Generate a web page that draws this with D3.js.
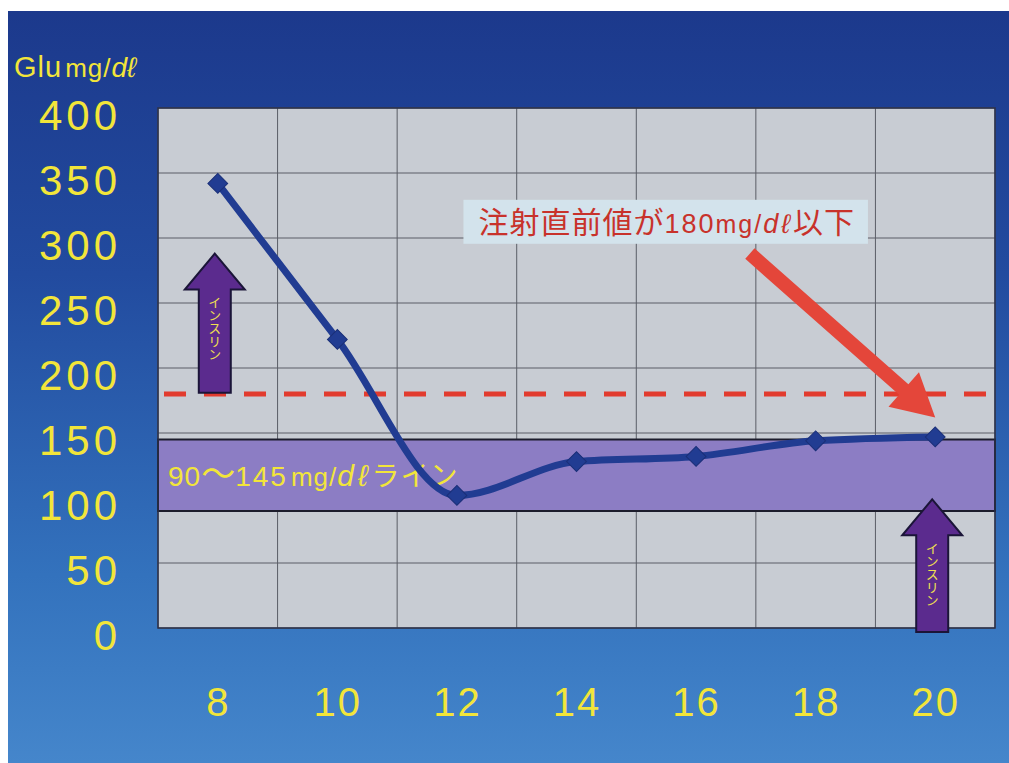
<!DOCTYPE html>
<html>
<head>
<meta charset="utf-8">
<script src="https://cdn.jsdelivr.net/npm/d3@7"></script>
<style>
  html, body { margin: 0; padding: 0; background: #ffffff; }
  svg { display: block; }
</style>
</head>
<body>
<svg id="chart" width="1009" height="763"></svg>
<script>
// Blood glucose through the day (hour of day vs. Glu mg/dℓ)
const hours = [8, 10, 12, 14, 16, 18, 20];
const glucose = [342, 222, 102, 128, 132, 144, 147];
const yTicks = [0, 50, 100, 150, 200, 250, 300, 350, 400];
const targetRange = [90, 145];      // 90〜145mg/dℓ target band
const thresholdValue = 180;         // pre-injection threshold
const insulinDoses = [              // insulin arrows: hour, arrow tip value, arrow base value
  { hour: 8, top: 288, bottom: 181 },
  { hour: 20, top: 99, bottom: -3 }
];

const W = 1009, H = 763;
const margin = { left: 158, right: 14, top: 108, bottom: 135 };
const svg = d3.select("#chart");
const YELLOW = "#f2e53a";
const LATIN = "'Liberation Sans', Arial, sans-serif";
const CJK = "'Noto Sans CJK JP'";

// background gradient panel
const defs = svg.append("defs");
const grad = defs.append("linearGradient").attr("id", "bg").attr("x1", 0).attr("y1", 0).attr("x2", 0).attr("y2", 1);
grad.append("stop").attr("offset", "0%").attr("stop-color", "#1c398c");
grad.append("stop").attr("offset", "35%").attr("stop-color", "#224b9f");
grad.append("stop").attr("offset", "75%").attr("stop-color", "#3372bd");
grad.append("stop").attr("offset", "100%").attr("stop-color", "#4586cb");
svg.append("rect").attr("x", 8).attr("y", 11).attr("width", W - 8).attr("height", H - 11).attr("fill", "url(#bg)");

const x0 = margin.left, x1 = W - margin.right, y0 = H - margin.bottom, y1 = margin.top;

const x = d3.scalePoint().domain(hours).range([x0, x1]).padding(0.5);
const xHour = d3.scaleLinear().domain([8, 20]).range([x(8), x(20)]);
const y = d3.scaleLinear().domain([0, 400]).range([y0, y1]);

// plot area
svg.append("rect").attr("x", x0).attr("y", y1).attr("width", x1 - x0).attr("height", y0 - y1)
  .attr("fill", "#c8ccd3");

// grid lines
const step = x.step();
const vGrid = d3.range(hours.length + 1).map(i => x0 + i * step);
svg.append("g").selectAll("line").data(vGrid).join("line")
  .attr("x1", d => d).attr("x2", d => d).attr("y1", y1).attr("y2", y0)
  .attr("stroke", "#5a5d66").attr("stroke-width", 1);
svg.append("g").selectAll("line").data(yTicks).join("line")
  .attr("x1", x0).attr("x2", x1).attr("y1", d => y(d)).attr("y2", d => y(d))
  .attr("stroke", "#5a5d66").attr("stroke-width", 1);

// target band
svg.append("rect")
  .attr("x", x0).attr("width", x1 - x0)
  .attr("y", y(targetRange[1])).attr("height", y(targetRange[0]) - y(targetRange[1]))
  .attr("fill", "#8c7dc4").attr("stroke", "#1c1c2c").attr("stroke-width", 2);

const bandLabel = svg.append("text")
  .attr("x", x0 + 10).attr("y", y((targetRange[0] + targetRange[1]) / 2) + 11)
  .attr("fill", YELLOW).attr("font-family", LATIN)
  .attr("font-size", 28);
bandLabel.append("tspan").attr("letter-spacing", 1).text("90");
bandLabel.append("tspan").attr("font-family", CJK).attr("font-size", 34).text("〜");
bandLabel.append("tspan").attr("letter-spacing", 2).text("145");
bandLabel.append("tspan").attr("font-size", 26).attr("dx", 3).attr("letter-spacing", 1).text("mg/");
bandLabel.append("tspan").attr("font-style", "italic").attr("font-size", 30).attr("letter-spacing", 4).text("dℓ");
bandLabel.append("tspan").attr("font-family", CJK).attr("font-size", 28).attr("letter-spacing", 1).text("ライン");

// plot border
svg.append("rect").attr("x", x0).attr("y", y1).attr("width", x1 - x0).attr("height", y0 - y1)
  .attr("fill", "none").attr("stroke", "#2a2f48").attr("stroke-width", 1.5);

// threshold dashed line
svg.append("line")
  .attr("x1", x0 + 6).attr("x2", x1).attr("y1", y(thresholdValue)).attr("y2", y(thresholdValue))
  .attr("stroke", "#e23b2e").attr("stroke-width", 5).attr("stroke-dasharray", "22 18");

// insulin arrows
const arrowGroup = svg.append("g");
insulinDoses.forEach(d => {
  const cx = x(d.hour) - 3;
  const ty = y(d.top), hy = ty + 36, by = y(d.bottom);
  const hw = 30, sw = 16;
  arrowGroup.append("path")
    .attr("d", `M${cx},${ty} L${cx + hw},${hy} L${cx + sw},${hy} L${cx + sw},${by} L${cx - sw},${by} L${cx - sw},${hy} L${cx - hw},${hy} Z`)
    .attr("fill", "#5b2b8e").attr("stroke", "#1b1538").attr("stroke-width", 2).attr("stroke-linejoin", "miter");
  arrowGroup.append("text")
    .attr("x", cx).attr("y", hy + 6)
    .attr("fill", "#f0e050").attr("font-family", CJK)
    .attr("font-size", 13).attr("writing-mode", "vertical-rl")
    .attr("text-anchor", "start")
    .text("インスリン");
});

// glucose line
const line = d3.line().x((d, i) => x(hours[i])).y(d => y(d)).curve(d3.curveMonotoneX);
svg.append("path").datum(glucose).attr("d", line)
  .attr("fill", "none").attr("stroke", "#213c92").attr("stroke-width", 7).attr("stroke-linejoin", "round");
svg.append("g").selectAll("path").data(glucose).join("path")
  .attr("transform", (d, i) => `translate(${x(hours[i])},${y(d)}) rotate(45)`)
  .attr("d", "M-7,-7 H7 V7 H-7 Z")
  .attr("fill", "#213c92").attr("stroke", "#1a2f78").attr("stroke-width", 1);

// red arrow pointing at the last reading
const tail = [xHour(16.9), y(288)], tip = [xHour(20), y(162)];
const ang = Math.atan2(tip[1] - tail[1], tip[0] - tail[0]);
const len = Math.hypot(tip[0] - tail[0], tip[1] - tail[1]);
const headL = 42, headW = 23, shaftW = 7;
svg.append("path")
  .attr("transform", `translate(${tail[0]},${tail[1]}) rotate(${ang * 180 / Math.PI})`)
  .attr("d", `M0,${-shaftW} L${len - headL},${-shaftW} L${len - headL},${-headW} L${len},0 L${len - headL},${headW} L${len - headL},${shaftW} L0,${shaftW} Z`)
  .attr("fill", "#e4463a");

// annotation label
const note = svg.append("g");
const noteText = note.append("text")
  .attr("x", xHour(12.36)).attr("y", y(304))
  .attr("fill", "#c8322b").attr("font-family", CJK).attr("font-size", 30);
noteText.append("tspan").attr("letter-spacing", 1).text("注射直前値が");
noteText.append("tspan").attr("font-family", LATIN).attr("font-size", 27).attr("letter-spacing", 2).text("180");
noteText.append("tspan").attr("font-family", LATIN).attr("font-size", 25).attr("letter-spacing", 2).text("mg/");
noteText.append("tspan").attr("font-family", LATIN).attr("font-style", "italic").attr("font-size", 27).attr("letter-spacing", 3).text("dℓ");
noteText.append("tspan").attr("letter-spacing", 1).text("以下");
const bb = noteText.node().getBBox();
note.insert("rect", "text")
  .attr("x", bb.x - 15).attr("y", bb.y + 2).attr("width", bb.width + 28).attr("height", bb.height)
  .attr("fill", "#d3e3ec");

// y axis
const yAxis = svg.append("g").attr("transform", `translate(${x0},0)`)
  .call(d3.axisLeft(y).tickValues(yTicks).tickSize(0).tickPadding(37));
yAxis.select(".domain").remove();
yAxis.selectAll("text")
  .attr("fill", YELLOW).attr("font-family", LATIN)
  .attr("font-size", 42).attr("letter-spacing", 4).attr("dy", "0.52em");

// x axis
const xAxis = svg.append("g").attr("transform", `translate(0,${y0})`)
  .call(d3.axisBottom(x).tickSize(0).tickPadding(60));
xAxis.select(".domain").remove();
xAxis.selectAll("text")
  .attr("fill", YELLOW).attr("font-family", LATIN)
  .attr("font-size", 40).attr("letter-spacing", 2);

// unit label
const unit = svg.append("text").attr("x", 14).attr("y", 77)
  .attr("fill", YELLOW).attr("font-family", LATIN);
unit.append("tspan").attr("font-size", 29).attr("letter-spacing", 1).text("Glu");
unit.append("tspan").attr("font-size", 26).attr("dx", 3).attr("letter-spacing", 1).text("mg/");
unit.append("tspan").attr("font-size", 28).attr("font-style", "italic").text("dℓ");
</script>
</body>
</html>
